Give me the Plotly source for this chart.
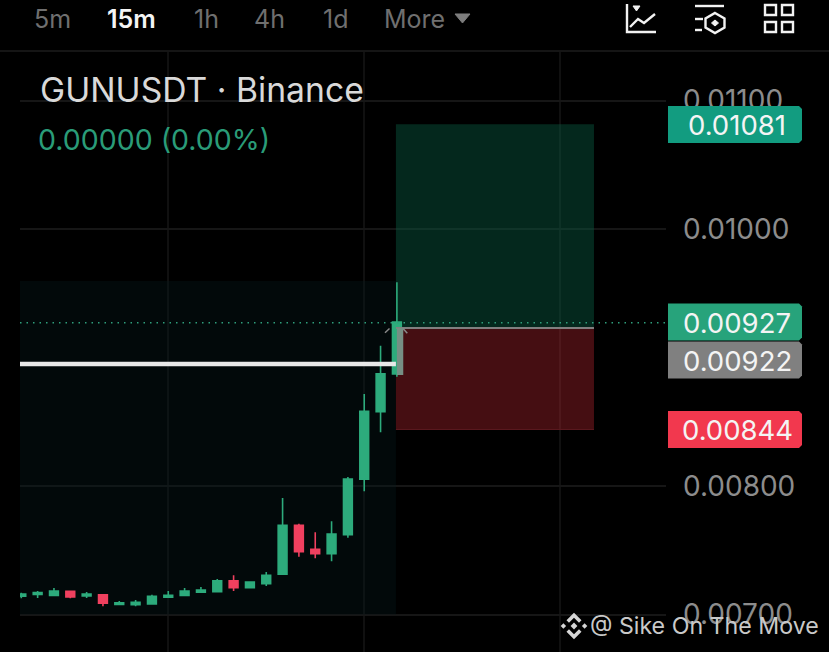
import plotly.graph_objects as go

W, H = 829, 652
FONT = "Inter"

# ---- data ----
opens = [.007142,.007157,.007149,.007181,.007144,.007154,.007079,.007076,.007082,.007134,.007149,.007173,
         .007178,.007263,.007209,.00724,.007313,.007694,.007507,.007473,.007621,.008052,.008578,.008872]
highs = [.00717,.007183,.007206,.007181,.007175,.007154,.007105,.007113,.007154,.007183,.007206,.007214,
         .007276,.007305,.007253,.007331,.007907,.007707,.00764,.007725,.00807,.008716,.009092,.009585]
lows = [.007126,.007128,.007144,.007126,.007128,.007064,.007074,.007064,.007082,.007128,.007144,.00717,
        .007178,.007183,.007209,.007222,.007313,.00745,.007437,.007414,.007598,.007959,.008418,.008851]
closes = [.00716,.00717,.007183,.007136,.00716,.007087,.007092,.007095,.007142,.007149,.007183,.007191,
          .007263,.007209,.007253,.007305,.007694,.007489,.007473,.007626,.008054,.008581,.008874,.009276]
candle_index = list(range(24))
grid_prices = [0.011, 0.010, 0.008, 0.007]
grid_labels = ["0.01100", "0.01000", "0.00800", "0.00700"]
time_grid = [9, 21, 33]
target_price, entry_price, stop_price = 0.010815, 0.00923, 0.00844
last_price, marker_price = 0.00927, 0.00895
tabs = ["5m", "15m", "1h", "4h", "1d", "More"]
tab_x = [52, 131, 206, 269, 335, 414]
badges = [("0.01081", 124.5, "#129c80"), ("0.00927", 322, "#27a37b"),
          ("0.00922", 360, "#808080"), ("0.00844", 429.5, "#f2384e")]

# ---- axis mapping ----
PX0, PXW = 20, 646
X0, DX = 21.3, 16.33
Y_PER = 128500
def price(py):
    return 0.010 - (py - 229) / Y_PER
def xp(px):
    return px / W
def yp(py):
    return 1 - py / H
def path(pts, close=False):
    s = "M " + " L ".join(f"{xp(a):.5f},{yp(b):.5f}" for a, b in pts)
    return s + (" Z" if close else "")

GREEN, RED = "#2dab7c", "#f0405f"
fig = go.Figure(go.Candlestick(
    x=candle_index, open=opens, high=highs, low=lows, close=closes,
    increasing=dict(line=dict(color=GREEN, width=1.6), fillcolor=GREEN),
    decreasing=dict(line=dict(color=RED, width=1.6), fillcolor=RED),
    whiskerwidth=0, hoverinfo="skip", showlegend=False))

shapes = []
def add(**k):
    shapes.append(k)

# zones on data axes
add(type="rect", xref="x", yref="y", x0=(PX0 - X0) / DX, x1=22.94, y0=0.007, y1=price(281),
    fillcolor="rgba(6,26,28,0.35)", line_width=0, layer="between")
add(type="rect", xref="x", yref="y", x0=22.94, x1=35.07, y0=entry_price, y1=target_price,
    fillcolor="rgba(10,95,70,0.42)", line_width=0, layer="between")
add(type="rect", xref="x", yref="y", x0=22.94, x1=35.07, y0=stop_price, y1=entry_price,
    fillcolor="rgba(190,40,50,0.36)", line_width=0, layer="between")
add(type="line", xref="x", yref="y", x0=22.94, x1=35.07, y0=stop_price, y1=stop_price,
    line=dict(color="#5c1a20", width=1))
add(type="line", xref="x", yref="y", x0=22.94, x1=35.07, y0=entry_price, y1=entry_price,
    line=dict(color="#808080", width=2))
# gray overlay on the last candle
add(type="rect", xref="x", yref="y", x0=23, x1=23.39, y0=price(375), y1=entry_price,
    fillcolor="#768f84", line_width=0)
# marker line
add(type="line", xref="x", yref="y", x0=(PX0 - X0) / DX, x1=22.94, y0=marker_price, y1=marker_price,
    line=dict(color="#e8e8e8", width=4.5))
# last price dotted line
add(type="line", xref="paper", yref="y", x0=xp(20), x1=xp(668), y0=last_price, y1=last_price,
    line=dict(color="#2f9f7c", width=1.5, dash="1.5px 5px"))
# chevrons
for pts in ([(385, 332.7), (389.5, 328.5)], [(403, 328.5), (407.3, 333.3)]):
    add(type="path", xref="paper", yref="paper", path=path(pts), line=dict(color="#8a8a8a", width=1.5))

# header rule
add(type="line", xref="paper", yref="paper", x0=xp(0), x1=xp(829), y0=yp(51), y1=yp(51),
    line=dict(color="#2a2a2a", width=1))

# badges
for text_, cy, col in badges:
    t, b, l, r = cy - 18.5, cy + 18.5, 668, 802
    d = 3
    p = (f"M {xp(l):.5f},{yp(t):.5f} L {xp(r-d):.5f},{yp(t):.5f} L {xp(r):.5f},{yp(t+d):.5f} "
         f"L {xp(r):.5f},{yp(b-d):.5f} L {xp(r-d):.5f},{yp(b):.5f} L {xp(l):.5f},{yp(b):.5f} Z")
    add(type="path", xref="paper", yref="paper", path=p, fillcolor=col, line_width=0)

# header icons (interface chrome)
ICON = dict(color="#f2f2f2", width=2.4)
def ic(pts, close=False, fill=None, line=ICON):
    k = dict(type="path", xref="paper", yref="paper", path=path(pts, close), line=line)
    if fill:
        k["fillcolor"] = fill
    add(**k)
ic([(627, 4), (627, 32), (656, 32)])
ic([(630, 27), (638, 19), (644, 23), (655, 14)])
ic([(633, 6), (640, 6), (636.5, 11)], True, "#f2f2f2", dict(color="#f2f2f2", width=1))
ic([(695, 6), (724, 6)])
ic([(695, 19), (703, 19)])
ic([(695, 30), (702, 30)])
ic([(715, 13), (724.5, 18.5), (724.5, 27.5), (715, 33), (705.5, 27.5), (705.5, 18.5)], True)
ic([(715, 20), (718.5, 23), (715, 26), (711.5, 23)], True, "#f2f2f2", dict(color="#f2f2f2", width=1))
for ax, ay in ((765, 5), (782, 5), (765, 22), (782, 22)):
    ic([(ax, ay), (ax + 11, ay), (ax + 11, ay + 10), (ax, ay + 10)], True)
# More caret
ic([(455, 14), (470, 14), (462.5, 23)], True, "#7d7d7d", dict(color="#7d7d7d", width=1))

# watermark logo
LOGO = "#d6d6d6"
cx, cy = 574, 626
none = dict(width=0)
def diamond(x, y, r):
    ic([(x, y - r), (x + r, y), (x, y + r), (x - r, y)], True, LOGO, none)
diamond(cx, cy, 3.4)
diamond(cx - 10.6, cy, 2.7)
diamond(cx + 10.6, cy, 2.7)
ic([(cx, cy - 13.3), (cx + 7.5, cy - 5.8), (cx + 5, cy - 3.3), (cx, cy - 8.3), (cx - 5, cy - 3.3), (cx - 7.5, cy - 5.8)], True, LOGO, none)
ic([(cx, cy + 13.3), (cx + 7.5, cy + 5.8), (cx + 5, cy + 3.3), (cx, cy + 8.3), (cx - 5, cy + 3.3), (cx - 7.5, cy + 5.8)], True, LOGO, none)

ann = []
def text(s, px, py, size, color, anchor="left", weight=None):
    fam = dict(size=size, color=color, family=FONT)
    if weight:
        fam["weight"] = weight
    ann.append(dict(text=s, x=xp(px), y=yp(py), xref="paper", yref="paper", showarrow=False,
                    xanchor=anchor, yanchor="middle", font=fam, borderpad=0))
for t, x in zip(tabs, tab_x):
    active = t == "15m"
    text(t, x, 19, 25, "#f4f4f4" if active else "#6f6f6f", "center", 600 if active else None)
text("GUNUSDT · Binance", 39, 90, 33.7, "#d9d9d9")
text("0.00000 (0.00%)", 37, 139, 28.5, "#2a9c78")
for s, cyy, col in badges:
    text(s, 737, cyy + 0.5, 27.5, "#f4f4f4", "center")
text("@ Sike On The Move", 820, 626, 23.2, "#c9c9c9", "right")

fig.update_layout(
    width=W, height=H, margin=dict(l=0, r=0, t=0, b=0), autosize=False,
    paper_bgcolor="#000000", plot_bgcolor="#000000",
    font=dict(family=FONT), boxgap=0.23,
    shapes=shapes, annotations=ann, showlegend=False,
    xaxis=dict(domain=[PX0 / W, (PX0 + PXW) / W], range=[(PX0 - X0) / DX, (PX0 + PXW - X0) / DX],
               tickvals=time_grid, showticklabels=False, ticks="", showgrid=True, gridcolor="#101010",
               gridwidth=1.5, zeroline=False, showline=False, rangeslider=dict(visible=False), fixedrange=True),
    yaxis=dict(domain=[0, 1 - 52 / H], range=[price(652), price(52)], side="right",
               tickvals=grid_prices, ticktext=grid_labels, ticks="", ticklabelstandoff=16,
               tickfont=dict(size=28, color="#8c8c8c", family=FONT),
               showgrid=True, gridcolor="#161616", gridwidth=1.5, zeroline=False, showline=False,
               fixedrange=True, automargin=False),
)
fig.write_html("out.html", config=dict(displayModeBar=False),
               post_script="document.body.style.margin='0';document.body.style.background='#000';")
